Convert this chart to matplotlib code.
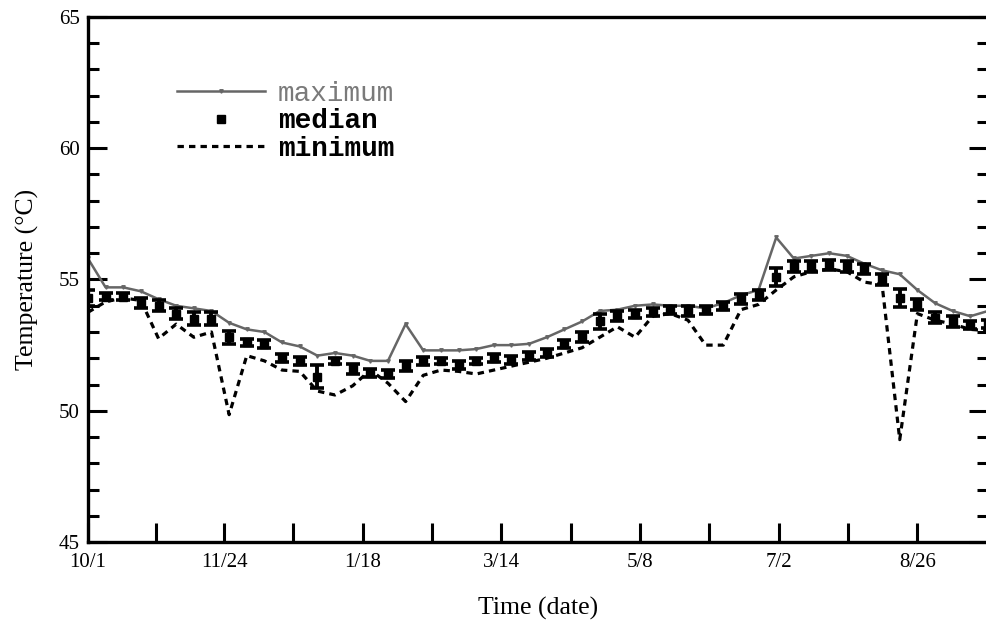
import matplotlib
matplotlib.use("Agg")
import matplotlib.pyplot as plt
from matplotlib.lines import Line2D
import numpy as np

# weekly samples, day 0 = 10/1
days = list(range(0, 358, 7))

t_max = [55.8, 54.7, 54.7, 54.55, 54.25, 54.0, 53.9, 53.8, 53.35, 53.1,
         53.0, 52.6, 52.45, 52.1, 52.2, 52.1, 51.9, 51.9, 53.3, 52.3,
         52.3, 52.3, 52.35, 52.5, 52.5, 52.55, 52.8, 53.1, 53.4, 53.8,
         53.85, 54.0, 54.05, 54.0, 54.0, 53.9, 54.1, 54.4, 54.6, 56.6,
         55.8, 55.9, 56.0, 55.9, 55.6, 55.35, 55.2, 54.6, 54.1, 53.8,
         53.6, 53.8]

t_med = [54.3, 54.35, 54.35, 54.1, 54.0, 53.7, 53.5, 53.5, 52.8, 52.6,
         52.55, 52.0, 51.9, 51.3, 51.9, 51.6, 51.45, 51.4, 51.7, 51.9,
         51.9, 51.75, 51.9, 52.0, 51.95, 52.1, 52.2, 52.55, 52.8, 53.4,
         53.6, 53.7, 53.75, 53.85, 53.8, 53.85, 54.0, 54.25, 54.4, 55.1,
         55.5, 55.5, 55.55, 55.5, 55.4, 55.0, 54.3, 54.05, 53.55, 53.4,
         53.25, 53.3]

t_err = [0.3, 0.15, 0.15, 0.2, 0.2, 0.2, 0.25, 0.25, 0.25, 0.15,
         0.15, 0.15, 0.15, 0.45, 0.1, 0.2, 0.15, 0.15, 0.2, 0.15,
         0.1, 0.15, 0.1, 0.15, 0.15, 0.15, 0.15, 0.15, 0.2, 0.3,
         0.2, 0.15, 0.15, 0.15, 0.2, 0.15, 0.15, 0.2, 0.2, 0.35,
         0.2, 0.2, 0.2, 0.2, 0.2, 0.2, 0.35, 0.2, 0.2, 0.2,
         0.15, 0.15]

t_min = [53.75, 54.15, 54.3, 54.2, 52.75, 53.3, 52.8, 53.0, 49.85, 52.1,
         51.9, 51.55, 51.5, 50.75, 50.6, 50.95, 51.55, 51.05, 50.35, 51.35,
         51.55, 51.5, 51.4, 51.55, 51.7, 51.85, 52.0, 52.2, 52.4, 52.8,
         53.2, 52.8, 53.6, 53.7, 53.45, 52.5, 52.5, 53.85, 54.05, 54.6,
         55.1, 55.3, 55.4, 55.3, 54.9, 54.8, 48.9, 53.7, 53.45, 53.3,
         53.1, 53.05]

tick_days = [0, 54, 109, 164, 219, 274, 329]
tick_labels = ['10/1', '11/24', '1/18', '3/14', '5/8', '7/2', '8/26']

plt.rcParams['font.family'] = ['Liberation Serif', 'DejaVu Serif']

fig = plt.figure(figsize=(9.86, 6.22), dpi=100)
ax = fig.add_axes([0.0892, 0.1286, 0.9128, 0.8441])

ax.plot(days, t_max, color='#666666', lw=1.8, marker='v', ms=2.5, zorder=2)
ax.errorbar(days, t_med, yerr=t_err, fmt='s', color='black', ms=6,
            elinewidth=2.8, capsize=5, capthick=2.6, zorder=3)
ax.plot(days, t_min, color='black', lw=2.3, ls=(0, (2, 1.6)), zorder=2)

ax.set_xlim(0, 357)
ax.set_ylim(45, 65)
ax.set_xticks(tick_days)
ax.set_xticklabels(tick_labels)
mids = [(tick_days[i] + tick_days[i + 1]) / 2 for i in range(len(tick_days) - 1)]
ax.set_xticks(mids, minor=True)
ax.set_yticks([45, 50, 55, 60, 65])
ax.set_yticks(np.arange(45, 66, 1), minor=True)

ax.tick_params(axis='both', which='both', direction='in', width=2.2,
               labelsize=15, right=True, top=False)
ax.tick_params(axis='y', which='major', length=14, pad=6)
ax.tick_params(axis='y', which='minor', length=8)
ax.tick_params(axis='x', which='both', length=14, pad=8)
for s in ax.spines.values():
    s.set_linewidth(2.4)

ax.set_xlabel('Time (date)', fontsize=18.5, labelpad=18)
ax.set_ylabel('Temperature (°C)', fontsize=18.5, labelpad=14)

handles = [
    Line2D([], [], color='#666666', lw=1.8, marker='v', ms=2.5),
    Line2D([], [], color='black', ls='none', marker='s', ms=6),
    Line2D([], [], color='black', lw=2.3, ls=(0, (2, 1.6))),
]
leg = ax.legend(handles, ['maximum', 'median', 'minimum'], loc='upper left',
                bbox_to_anchor=(0.083, 0.905), frameon=False,
                handlelength=3.2, handletextpad=0.45, labelspacing=0.06,
                borderpad=0, prop={'family': 'Liberation Mono', 'size': 20,
                                   'weight': 'bold'})
leg.get_texts()[0].set_color('#7a7a7a')
leg.get_texts()[0].set_fontweight('normal')

fig.savefig('out.png', dpi=100)
